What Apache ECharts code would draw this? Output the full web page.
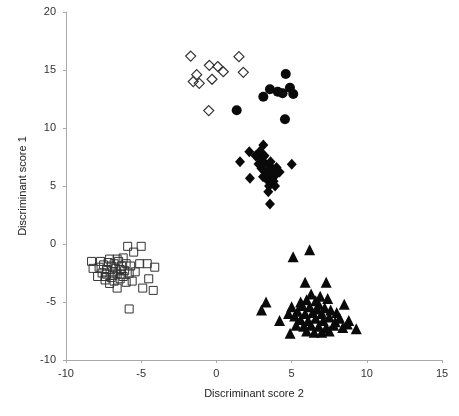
<!DOCTYPE html>
<html><head><meta charset="utf-8">
<script src="https://cdn.jsdelivr.net/npm/echarts@6/dist/echarts.min.js"></script>
<style>html,body{margin:0;padding:0;background:#fff}#c{width:459px;height:416px}</style>
</head><body><div id="c"></div>
<script>
const xTicks=[-10,-5,0,5,10,15];
const yTicks=[-10,-5,0,5,10,15,20];
const openDiamonds=[[-1.71,16.2],[1.5,16.15],[-0.47,15.4],[0.09,15.3],[0.46,14.85],[1.79,14.8],[-1.31,14.6],[-1.54,14.0],[-1.14,13.85],[-0.29,14.2],[-0.51,11.5]];
const filledCircles=[[4.61,14.66],[3.12,12.7],[3.56,13.34],[4.08,13.13],[4.89,13.47],[5.11,12.93],[1.35,11.53],[4.56,10.75],[4.4,13.0]];
const filledDiamonds=[[3.12,8.53],[2.19,7.96],[1.57,7.09],[5.01,6.87],[2.23,5.66],[3.45,4.51],[3.56,3.45],
[2.6,7.6],[2.9,7.3],[3.2,7.0],[3.5,6.8],[3.0,6.5],[3.3,6.2],[3.6,6.0],[3.9,5.9],[3.1,5.8],[3.4,5.5],[3.8,5.4],[4.2,6.2],[3.7,6.5],[2.8,6.9],[3.5,5.0],[3.9,5.0],[3.2,7.6],[2.9,8.0],[4.0,6.6],[3.6,7.1]];
const openSquares=[[-8.2,-2.1],[-8.3,-1.5],[-7.7,-1.5],[-7.4,-2.8],[-7.1,-3.4],[-6.6,-3.8],[-6.2,-1.2],[-5.9,-0.2],[-5.5,-0.7],[-5.0,-0.2],[-5.1,-1.7],[-4.6,-1.7],[-4.1,-2.0],[-4.5,-3.0],[-4.9,-3.8],[-4.2,-4.0],[-5.4,-2.4],[-5.8,-5.6],
[-7.8,-2.0],[-7.5,-1.8],[-7.3,-2.2],[-7.2,-1.6],[-7.0,-1.9],[-6.9,-2.4],[-6.8,-1.7],[-6.7,-2.1],[-6.6,-2.6],[-6.5,-1.5],[-6.4,-2.2],[-6.3,-1.9],[-6.2,-2.8],[-6.1,-2.3],[-6.0,-1.7],[-7.6,-2.5],[-7.4,-3.1],[-7.0,-2.9],[-6.8,-3.2],[-6.4,-3.0],[-6.0,-3.3],[-5.8,-2.5],[-5.7,-1.9],[-7.9,-2.8],[-6.6,-1.3],[-7.1,-1.3],[-6.9,-2.7],[-6.3,-2.6],[-5.6,-3.2],[-7.3,-2.6]];
const filledTriangles=[[6.2,-0.5],[5.1,-1.1],[5.9,-3.3],[7.3,-3.3],[3.3,-5.0],[3.0,-5.7],[9.3,-7.3],[8.8,-6.6],[4.2,-6.6],[4.8,-6.0],[4.9,-7.7],
[6.3,-4.3],[6.0,-4.8],[6.6,-4.9],[5.7,-5.3],[6.2,-5.4],[6.8,-5.2],[7.2,-5.5],[5.4,-5.8],[5.9,-6.0],[6.4,-5.9],[7.0,-6.0],[7.6,-5.7],[8.0,-5.9],[5.6,-6.5],[6.1,-6.6],[6.6,-6.4],[7.1,-6.6],[7.5,-6.3],[8.2,-6.4],[5.3,-7.0],[5.8,-7.1],[6.3,-7.0],[6.8,-7.1],[7.3,-7.2],[7.8,-7.0],[8.4,-7.2],[6.0,-7.5],[6.5,-7.6],[7.0,-7.6],[7.5,-7.5],[5.6,-5.0],[7.4,-4.7],[6.9,-4.5],[8.5,-5.2],[5.2,-6.2],[6.7,-5.6],[7.9,-6.7],[8.7,-6.9],[5.0,-5.4]];

const chart=echarts.init(document.getElementById('c'),null,{renderer:'canvas'});
const font='"Liberation Sans", Arial, sans-serif';
const fillStyle={color:'#0a0a0a',opacity:1};
const openStyle={color:'rgba(255,255,255,0)',borderColor:'#333',borderWidth:1.2,opacity:1};
chart.setOption({
  animation:false,
  grid:{left:66,right:17,top:12,bottom:56},
  xAxis:{type:'value',min:-10,max:15,interval:5,
    name:'Discriminant score 2',nameLocation:'middle',nameGap:28,
    nameTextStyle:{fontFamily:font,fontSize:11,color:'#222'},
    axisLine:{onZero:false,lineStyle:{color:'#aaa',width:1}},
    axisTick:{show:true,length:3,lineStyle:{color:'#aaa'}},
    axisLabel:{fontFamily:font,fontSize:11,color:'#333',margin:8},
    splitLine:{show:false}},
  yAxis:{type:'value',min:-10,max:20,interval:5,
    name:'Discriminant score 1',nameLocation:'middle',nameGap:38,nameRotate:90,
    nameTextStyle:{fontFamily:font,fontSize:11,color:'#222'},
    axisLine:{show:true,onZero:false,lineStyle:{color:'#aaa',width:1}},
    axisTick:{show:true,length:3,lineStyle:{color:'#aaa'}},
    axisLabel:{fontFamily:font,fontSize:11,color:'#333',margin:10},
    splitLine:{show:false}},
  series:[
    {type:'scatter',data:openSquares,symbol:'rect',symbolSize:8,itemStyle:{color:'rgba(255,255,255,0)',borderColor:'#333',borderWidth:1,opacity:1}},
    {type:'scatter',data:openDiamonds,symbol:'diamond',symbolSize:[10,10],itemStyle:openStyle},
    {type:'scatter',data:filledCircles,symbol:'circle',symbolSize:10,itemStyle:fillStyle},
    {type:'scatter',data:filledDiamonds,symbol:'diamond',symbolSize:[10,11],itemStyle:fillStyle},
    {type:'scatter',data:filledTriangles,symbol:'triangle',symbolSize:[11,11],itemStyle:fillStyle}
  ]
});
</script></body></html>
